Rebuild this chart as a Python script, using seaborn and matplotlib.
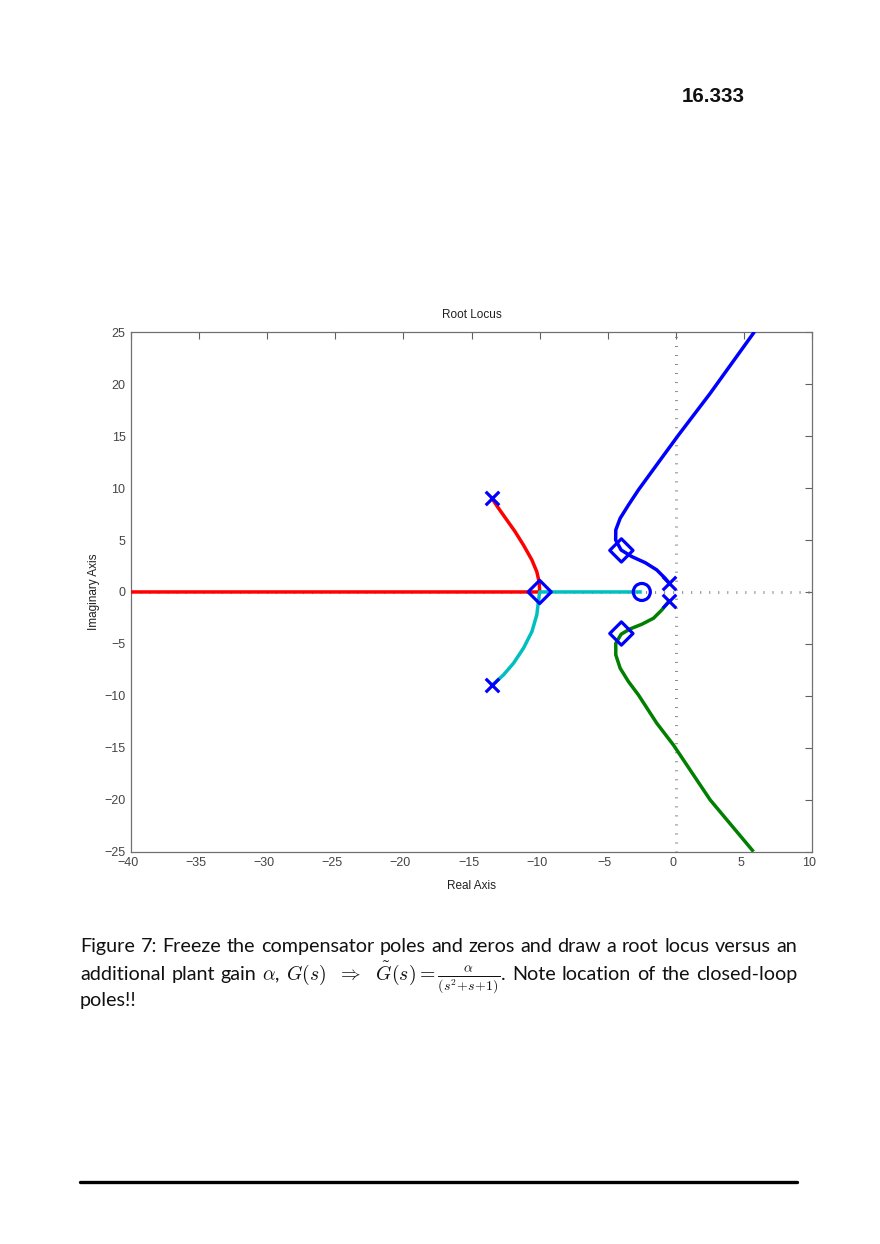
"""Root locus page (16.333, Figure 7) redrawn with seaborn + matplotlib."""

import matplotlib

matplotlib.use("Agg")
import matplotlib.pyplot as plt
import matplotlib.transforms as mtransforms
import pandas as pd
import seaborn as sns
from matplotlib.lines import Line2D

# ---- data ------------------------------------------------------------------
red_x = [-13.5, -13.02, -12.41, -11.8, -11.19, -10.57, -10.21, -10.04, -10.01, -10.0, -40.0]
red_y = [9.0, 8.06, 6.93, 5.8, 4.52, 3.08, 1.95, 0.99, 0.36, 0.0, 0.0]

cyan_x = [-13.5, -12.66, -11.92, -11.19, -10.57, -10.21, -10.09, -10.0, -2.5]
cyan_y = [-9.0, -7.99, -6.86, -5.42, -3.82, -2.21, -0.93, 0.0, 0.0]

blue_x = [-0.5, -0.79, -1.4, -2.25, -3.23, -4.02, -4.42, -4.41, -4.09, -3.48, -2.75, -1.15, 0.19, 2.52, 5.77]
blue_y = [0.87, 1.32, 2.12, 2.82, 3.4, 4.04, 5.0, 5.97, 7.09, 8.37, 9.82, 12.7, 15.1, 19.12, 25.05]

green_x = [-0.5, -1.03, -1.64, -2.5, -3.36, -4.02, -4.41, -4.41, -4.09, -3.48, -2.75, -1.4, -0.18, 2.52, 5.7]
green_y = [-0.87, -1.73, -2.53, -3.11, -3.56, -4.07, -4.94, -6.06, -7.34, -8.63, -9.91, -12.64, -14.73, -20.02, -25.0]

pole_x = [-13.5, -13.5, -0.5, -0.5]
pole_y = [9.0, -9.0, 0.87, -0.87]
zero_x = [-2.5]
zero_y = [0.0]
cl_pole_x = [-10.0, -4.0, -4.0]
cl_pole_y = [0.0, 4.0, -4.0]

x_ticks = list(range(-40, 11, 5))
y_ticks = list(range(-25, 26, 5))

branch_names = ["red", "cyan", "blue", "green"]
branch_colors = {"red": "#ff0000", "cyan": "#00bfbf", "blue": "#0000ff", "green": "#007f00"}

caption_lines = [
    "Figure 7: Freeze the compensator poles and zeros and draw a root locus versus an",
    r"additional plant gain $\alpha$, $G(s)\ \ \Rightarrow\ \ \tilde{G}(s) = \frac{\alpha}{(s^2\!+\!s\!+\!1)}$. Note location of the closed-loop",
    "poles!!",
]


def build_branches() -> pd.DataFrame:
    frames = []
    for name, xs, ys in zip(branch_names, [red_x, cyan_x, blue_x, green_x], [red_y, cyan_y, blue_y, green_y]):
        frames.append(pd.DataFrame({"re": xs, "im": ys, "branch": name}))
    return pd.concat(frames, ignore_index=True)


def justify_line(fig, text, x0, x1, y, justify=True, **kw):
    """Place the words of one caption line so that it fills [x0, x1] (figure fraction)."""
    if not justify:
        fig.text(x0, y, text, **kw)
        return
    renderer = fig.canvas.get_renderer()
    # keep $...$ chunks together
    words, buf = [], ""
    for token in text.split(" "):
        buf = token if not buf else buf + " " + token
        if buf.count("$") % 2 == 0:
            words.append(buf)
            buf = ""
    widths = []
    for w in words:
        t = fig.text(0, 0, w, **kw)
        widths.append(t.get_window_extent(renderer=renderer).width / fig.bbox.width)
        t.remove()
    gap = (x1 - x0 - sum(widths)) / (len(words) - 1)
    pos = x0
    for w, wd in zip(words, widths):
        fig.text(pos, y, w, **kw)
        pos += wd + gap


def main() -> None:
    sns.set_theme(style="white")
    plt.rcParams["font.family"] = ["Liberation Sans", "DejaVu Sans"]
    plt.rcParams["mathtext.fontset"] = "cm"

    fig = plt.figure(figsize=(8.8, 12.44), dpi=100)
    ax = fig.add_axes([0.1489, 0.3154, 0.7739, 0.4175])

    # MATLAB-style dotted axes through the origin
    dot_kw = dict(color="#808080", linewidth=2.0, dashes=(0.35, 2.9), zorder=1)
    ax.axhline(0, **dot_kw)
    ax.axvline(0, **dot_kw)

    df = build_branches()
    sns.lineplot(
        data=df, x="re", y="im", hue="branch", palette=branch_colors, hue_order=branch_names,
        sort=False, estimator=None, linewidth=2.5, legend=False, ax=ax, zorder=3,
        solid_joinstyle="round", solid_capstyle="butt",
    )

    sns.scatterplot(x=pole_x, y=pole_y, marker="x", s=95, color="#0000ff", linewidth=2.3, ax=ax, zorder=5)
    sns.scatterplot(x=zero_x, y=zero_y, marker="o", s=150, facecolor="none", edgecolor="#0000ff",
                    linewidth=2.3, ax=ax, zorder=5)
    sns.scatterplot(x=cl_pole_x, y=cl_pole_y, marker="D", s=140, facecolor="none", edgecolor="#0000ff",
                    linewidth=2.3, ax=ax, zorder=5)

    ax.set_xlim(-40, 10)
    ax.set_ylim(-25, 25)
    ax.set_xticks(x_ticks)
    ax.set_yticks(y_ticks)
    ax.tick_params(direction="in", length=5, width=0.8, color="#606060", labelcolor="#444444",
                   labelsize=9, top=True, right=True, pad=4)
    # MATLAB puts the x labels a touch left of their ticks
    shift = mtransforms.ScaledTranslation(-3 / 100, 0, fig.dpi_scale_trans)
    for label in ax.get_xticklabels():
        label.set_transform(label.get_transform() + shift)
    for spine in ax.spines.values():
        spine.set_color("#707070")
        spine.set_linewidth(0.9)
    ax.set_title("Root Locus", fontsize=8.5, color="#202020", pad=10)
    ax.set_xlabel("Real Axis", fontsize=8.5, color="#202020", labelpad=7.5)
    ax.set_ylabel("Imaginary Axis", fontsize=8.5, color="#202020", labelpad=3)

    # page header
    fig.text(0.8102, 0.9225, "16.333", fontsize=14.8, fontweight="bold", ha="center", va="center",
             family=["Liberation Sans", "DejaVu Sans"], color="#111111")

    # caption
    cap_kw = dict(fontsize=14.2, family=["Lato", "DejaVu Sans"], color="#111111", va="baseline")
    x0, x1 = 80 / 880, 797 / 880
    base = [1 - 952 / 1244, 1 - 980 / 1244, 1 - 1006 / 1244]
    justify_line(fig, caption_lines[0], x0, x1, base[0], **cap_kw)
    justify_line(fig, caption_lines[1], x0, x1, base[1], **cap_kw)
    justify_line(fig, caption_lines[2], x0, x1, base[2], justify=False, **cap_kw)

    # bottom rule
    fig.add_artist(Line2D([80 / 880, 797 / 880], [1 - 1182 / 1244] * 2, color="black", linewidth=2.4))

    fig.savefig("out.png", dpi=100)
    plt.close(fig)


if __name__ == "__main__":
    main()
